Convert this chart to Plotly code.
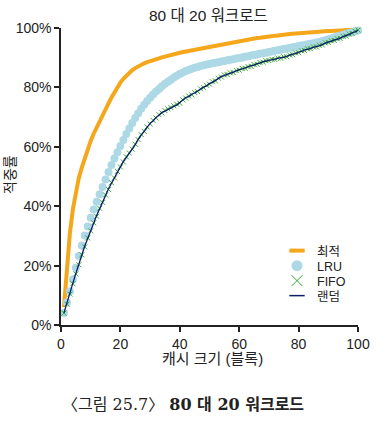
import plotly.graph_objects as go

cache_sizes = list(range(1, 101))

optimal = [6, 20, 31, 39, 45, 49.5, 53, 56.2, 59.2, 62,
           64.4, 66.6, 68.6, 70.6, 72.6, 74.6, 76.6, 78.4, 80.1, 81.6,
           82.9, 84, 85, 85.8, 86.5, 87.1, 87.6, 88.1, 88.5, 88.9,
           89.2, 89.5, 89.8, 90.1, 90.4, 90.7, 90.9, 91.2, 91.4, 91.7,
           91.9, 92.1, 92.3, 92.5, 92.7, 92.9, 93.1, 93.3, 93.5, 93.7,
           93.9, 94.1, 94.3, 94.5, 94.7, 94.9, 95.1, 95.3, 95.5, 95.6,
           95.8, 96.0, 96.1, 96.3, 96.4, 96.6, 96.7, 96.9, 97.0, 97.2,
           97.3, 97.4, 97.5, 97.7, 97.8, 97.9, 98.0, 98.1, 98.2, 98.3,
           98.4, 98.5, 98.6, 98.6, 98.7, 98.8, 98.8, 98.9, 98.9, 99.0,
           99.0, 99.1, 99.1, 99.2, 99.2, 99.3, 99.3, 99.3, 99.4, 99.4]

lru = [4.0, 7.6, 11.4, 15.3, 19.3, 23.2, 26.8, 30.1, 33.2, 36.1,
       38.9, 41.5, 44.0, 46.5, 49.0, 51.5, 53.9, 56.1, 58.2, 60.3,
       62.3, 64.3, 66.2, 68.0, 69.7, 71.3, 72.8, 74.2, 75.4, 76.5,
       77.6, 78.6, 79.5, 80.4, 81.2, 81.9, 82.6, 83.3, 83.9, 84.5,
       85.0, 85.5, 85.9, 86.3, 86.6, 86.9, 87.2, 87.5, 87.7, 87.9,
       88.1, 88.3, 88.5, 88.7, 88.9, 89.1, 89.3, 89.5, 89.7, 89.9,
       90.1, 90.3, 90.5, 90.7, 90.9, 91.1, 91.3, 91.5, 91.7, 91.9,
       92.1, 92.3, 92.5, 92.7, 92.9, 93.1, 93.3, 93.5, 93.7, 93.9,
       94.1, 94.3, 94.5, 94.7, 94.9, 95.1, 95.3, 95.6, 95.9, 96.2,
       96.5, 96.8, 97.1, 97.4, 97.7, 98.0, 98.3, 98.6, 98.9, 99.2]

fifo = [4.0, 7.0, 10.4, 13.9, 17.2, 20.3, 23.6, 26.3, 29.3, 31.7,
        34.4, 36.6, 39.3, 41.3, 43.8, 45.6, 47.9, 49.5, 51.7, 53.2,
        54.9, 56.6, 57.9, 59.2, 60.9, 62.4, 64.1, 65.2, 66.7, 67.7,
        68.9, 69.7, 70.8, 71.4, 72.2, 72.8, 73.2, 73.8, 74.3, 74.7,
        75.8, 76.4, 77.1, 77.5, 78.3, 78.6, 79.5, 79.9, 80.7, 81.1,
        81.9, 82.2, 83.1, 83.5, 84.2, 84.3, 84.9, 85.0, 85.7, 85.8,
        86.4, 86.4, 87.0, 87.1, 87.7, 87.8, 88.4, 88.5, 89.0, 89.0,
        89.5, 89.4, 89.9, 89.8, 90.3, 90.3, 90.9, 91.0, 91.6, 91.7,
        92.3, 92.4, 93.0, 93.0, 93.6, 93.6, 94.2, 94.3, 95.0, 95.1,
        95.7, 95.8, 96.4, 96.5, 97.2, 97.3, 98.0, 98.2, 98.9, 99.3]

random_ = [4.1, 7.2, 10.6, 14.1, 17.4, 20.6, 23.4, 26.6, 29.1, 31.9,
           34.2, 36.9, 39.1, 41.6, 43.6, 45.9, 47.7, 49.7, 51.6, 53.4,
           55.1, 56.4, 57.7, 59.4, 60.7, 62.6, 63.9, 65.4, 66.5, 67.9,
           68.7, 69.9, 70.6, 71.6, 72.0, 72.6, 73.0, 73.6, 74.1, 74.9,
           75.6, 76.6, 76.9, 77.7, 78.1, 78.8, 79.3, 80.1, 80.5, 81.3,
           81.7, 82.4, 82.9, 83.7, 84.0, 84.5, 84.7, 85.2, 85.5, 86.0,
           86.2, 86.6, 86.8, 87.3, 87.5, 88.0, 88.2, 88.7, 88.8, 89.2,
           89.3, 89.6, 89.7, 90.0, 90.1, 90.5, 90.7, 91.2, 91.4, 91.9,
           92.1, 92.6, 92.8, 93.2, 93.4, 93.8, 94.0, 94.5, 94.8, 95.3,
           95.5, 96.0, 96.2, 96.7, 97.0, 97.5, 97.8, 98.4, 98.7, 99.2]

y_ticks = [0, 20, 40, 60, 80, 100]
y_tick_labels = ["0%", "20%", "40%", "60%", "80%", "100%"]
x_ticks = [0, 20, 40, 60, 80, 100]
x_tick_labels = ["0", "20", "40", "60", "80", "100"]

FONT = "Liberation Sans, Arial, Noto Sans CJK KR, sans-serif"
C_OPT = "#F5A71C"
C_LRU = "#ADD8E6"
C_FIFO = "#3AAA35"
C_RAND = "#0D1B6E"

W, H = 390, 422
L, T, R, B = 61, 28, 32, 97
PW, PH = W - L - R, H - T - B


def px_x(p):
    return (p - L) / PW


def px_y(p):
    return (H - B - p) / PH


fig = go.Figure()
fig.add_trace(go.Scatter(x=cache_sizes, y=optimal, mode="lines", name="최적",
                         line=dict(color=C_OPT, width=4), cliponaxis=False,
                         showlegend=False, legendgroup="opt"))
fig.add_trace(go.Scatter(x=cache_sizes, y=lru, mode="markers", name="LRU",
                         marker=dict(color=C_LRU, size=8, symbol="circle"),
                         cliponaxis=False, showlegend=False, legendgroup="lru"))
fig.add_trace(go.Scatter(x=cache_sizes, y=fifo, mode="markers", name="FIFO",
                         marker=dict(color=C_FIFO, size=5, symbol="x-thin",
                                     line=dict(color=C_FIFO, width=1)),
                         cliponaxis=False, showlegend=False, legendgroup="fifo"))
fig.add_trace(go.Scatter(x=cache_sizes, y=random_, mode="lines", name="랜덤",
                         line=dict(color=C_RAND, width=1.3), cliponaxis=False,
                         showlegend=False, legendgroup="rand"))

# legend entries (one legend per entry to get compact spacing)
fig.add_trace(go.Scatter(x=[None], y=[None], mode="markers", name="최적", legend="legend",
                         legendgroup="opt",
                         marker=dict(symbol="line-ew", size=11, line=dict(color=C_OPT, width=4))))
fig.add_trace(go.Scatter(x=[None], y=[None], mode="markers", name="LRU", legend="legend2",
                         legendgroup="lru",
                         marker=dict(symbol="circle", size=11, color=C_LRU)))
fig.add_trace(go.Scatter(x=[None], y=[None], mode="markers", name="FIFO", legend="legend3",
                         legendgroup="fifo",
                         marker=dict(symbol="x-thin", size=11, line=dict(color=C_FIFO, width=1))))
fig.add_trace(go.Scatter(x=[None], y=[None], mode="markers", name="랜덤", legend="legend4",
                         legendgroup="rand",
                         marker=dict(symbol="line-ew", size=11, line=dict(color=C_RAND, width=1.5))))

leg_common = dict(xanchor="left", yanchor="middle", bgcolor="rgba(0,0,0,0)",
                  font=dict(size=12.5, color="#222"), itemwidth=30, borderwidth=0)
leg_x = px_x(277)

fig.update_layout(
    width=W, height=H,
    margin=dict(l=L, r=R, t=T, b=B),
    paper_bgcolor="white", plot_bgcolor="white",
    font=dict(family=FONT, size=14, color="#222"),
    showlegend=True,
    legend=dict(x=leg_x, y=px_y(251), **leg_common),
    legend2=dict(x=leg_x, y=px_y(266), **leg_common),
    legend3=dict(x=leg_x, y=px_y(281), **leg_common),
    legend4=dict(x=leg_x, y=px_y(296), **leg_common),
    xaxis=dict(range=[0, 100], tickvals=x_ticks, ticktext=x_tick_labels,
               showgrid=False, zeroline=False,
               showline=True, linecolor="#222", linewidth=1.5,
               ticks="outside", ticklen=5, tickcolor="#222", tickwidth=1.5,
               tickfont=dict(size=14)),
    yaxis=dict(range=[0, 100], tickvals=y_ticks, ticktext=y_tick_labels,
               showgrid=False, zeroline=False, showline=True,
               linecolor="#222", linewidth=1.5,
               ticks="outside", ticklen=5, tickcolor="#222", tickwidth=1.5,
               tickfont=dict(size=14)),
    annotations=[
        dict(text="80 대 20 워크로드", x=px_x(208), y=px_y(15), xref="paper", yref="paper",
             showarrow=False, font=dict(size=15.5, color="#222"), xanchor="center", yanchor="middle"),
        dict(text="캐시 크기 (블록)", x=px_x(212), y=px_y(358), xref="paper", yref="paper",
             showarrow=False, font=dict(size=15, color="#222"), xanchor="center", yanchor="middle"),
        dict(text="적중률", x=px_x(10), y=px_y(175), xref="paper", yref="paper",
             showarrow=False, textangle=-90, font=dict(size=14, color="#222"),
             xanchor="center", yanchor="middle"),
        dict(text="〈그림 25.7〉 <b>80 대 20 워크로드</b>", x=px_x(183), y=px_y(404),
             xref="paper", yref="paper", showarrow=False,
             font=dict(size=16, color="#222", family="DejaVu Serif, Noto Sans CJK KR, serif"),
             xanchor="center", yanchor="middle"),
    ],
)

fig.write_html("out.html", config={"displayModeBar": False},
               post_script="document.body.style.margin='0px';")
